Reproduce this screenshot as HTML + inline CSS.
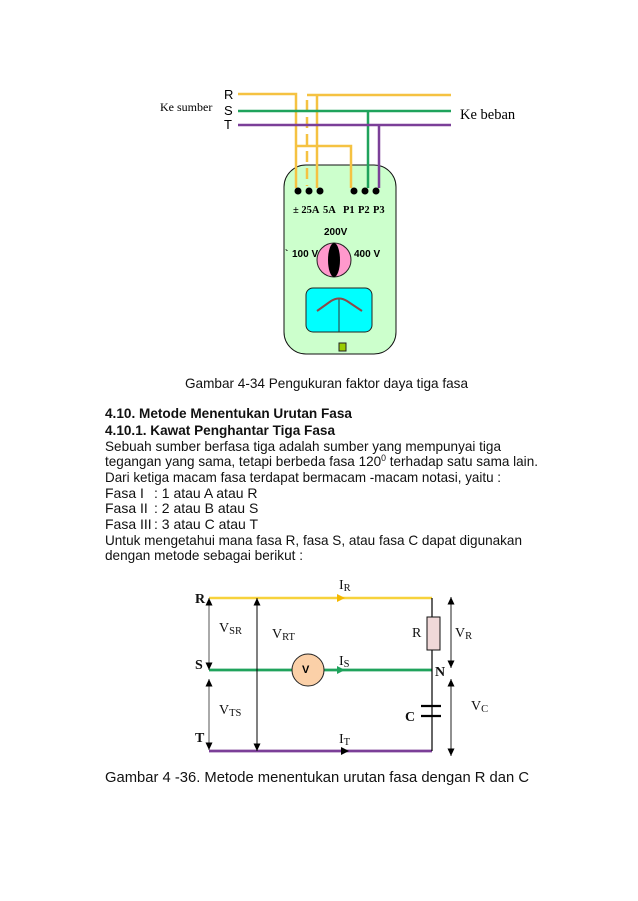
<!DOCTYPE html>
<html><head><meta charset="utf-8">
<style>
html,body{margin:0;padding:0;background:#fff}
body{width:638px;height:901px;position:relative;overflow:hidden}
svg{position:absolute;left:0;top:0}
.a{font-family:"Liberation Sans",sans-serif}
.s{font-family:"Liberation Serif",serif}
</style></head><body>
<svg width="638" height="901" viewBox="0 0 638 901" xmlns="http://www.w3.org/2000/svg">
<defs>
<marker id="ak" markerWidth="8" markerHeight="8" refX="7.5" refY="3.5" orient="auto-start-reverse" markerUnits="userSpaceOnUse"><path d="M0 0L7.5 3.5L0 7Z" fill="#000"/></marker>
</defs>
<rect width="638" height="901" fill="#fff"/>
<!-- meter -->
<rect x="284" y="165" width="112" height="189" rx="22" fill="#ccffcc" stroke="#111" stroke-width="1"/>
<g fill="none" stroke-width="2.5">
<path d="M238 94H296V188M296 146H351V188" stroke="#f5c242"/>
<path d="M307 95H451M317 95V188" stroke="#f5c242"/>
<path d="M307 100V186" stroke="#f5c242" stroke-dasharray="11 6"/>
<path d="M238 111H451M368 111V188" stroke="#1fa35c"/>
<path d="M238 125H451M379 125V188" stroke="#7b3f98"/>
</g>
<g fill="#000">
<circle cx="298" cy="191" r="3.5"/><circle cx="309" cy="191" r="3.5"/><circle cx="320" cy="191" r="3.5"/>
<circle cx="354" cy="191" r="3.5"/><circle cx="365" cy="191" r="3.5"/><circle cx="376" cy="191" r="3.5"/>
</g>
<circle cx="334" cy="260" r="17" fill="#ff99cc" stroke="#222" stroke-width="1"/>
<ellipse cx="334" cy="260" rx="6" ry="17" fill="#000"/>
<rect x="306" y="288" width="66" height="44" rx="7" fill="#00ffff" stroke="#222" stroke-width="1"/>
<path d="M339 298V332" stroke="#333" stroke-width="1"/>
<path d="M317 311L331 301Q339 296 347 301L362 311" fill="none" stroke="#8a4a4a" stroke-width="2"/>
<rect x="339" y="343" width="7" height="8" fill="#99cc00" stroke="#222" stroke-width="1"/>
<!-- labels top -->
<text x="160" y="111" class="s" font-size="12">Ke sumber</text>
<text x="224" y="99" class="a" font-size="13">R</text>
<text x="224" y="115" class="a" font-size="13">S</text>
<text x="224" y="129" class="a" font-size="13">T</text>
<text x="460" y="119" class="s" font-size="14.5">Ke beban</text>
<g class="s" font-size="10.5" font-weight="bold">
<text x="293" y="213">± 25A</text>
<text x="323" y="213">5A</text>
<text x="343" y="213">P1</text>
<text x="358" y="213">P2</text>
<text x="373" y="213">P3</text>
</g>
<text x="324" y="235" class="a" font-size="10" font-weight="bold">200V</text>
<text x="285" y="257" class="a" font-size="10" font-weight="bold">`</text>
<text x="292" y="257" class="a" font-size="10" font-weight="bold">100 V</text>
<text x="354" y="257" class="a" font-size="10" font-weight="bold">400 V</text>
<!-- text block -->
<g class="a" font-size="14" fill="#111">
<text x="185" y="388" textLength="283" lengthAdjust="spacingAndGlyphs">Gambar 4-34 Pengukuran faktor daya tiga fasa</text>
<text x="105" y="418" font-weight="bold" textLength="247" lengthAdjust="spacingAndGlyphs">4.10. Metode Menentukan Urutan Fasa</text>
<text x="105" y="435" font-weight="bold" textLength="230" lengthAdjust="spacingAndGlyphs">4.10.1. Kawat Penghantar Tiga Fasa</text>
<text x="105" y="451" textLength="396" lengthAdjust="spacingAndGlyphs">Sebuah sumber berfasa tiga adalah sumber yang mempunyai tiga</text>
<text x="105" y="466" textLength="433" lengthAdjust="spacingAndGlyphs">tegangan yang sama, tetapi berbeda fasa 120<tspan font-size="9" dy="-5">0</tspan><tspan dy="5"> terhadap satu sama lain.</tspan></text>
<text x="105" y="482" textLength="396" lengthAdjust="spacingAndGlyphs">Dari ketiga macam fasa terdapat bermacam -macam notasi, yaitu :</text>
<text x="105" y="498">Fasa I<tspan x="154">: 1 atau A atau R</tspan></text>
<text x="105" y="513">Fasa II<tspan x="154">: 2 atau B atau S</tspan></text>
<text x="105" y="529">Fasa III<tspan x="154">: 3 atau C atau T</tspan></text>
<text x="105" y="545" textLength="417" lengthAdjust="spacingAndGlyphs">Untuk mengetahui mana fasa R, fasa S, atau fasa C dapat digunakan</text>
<text x="105" y="560" textLength="198" lengthAdjust="spacingAndGlyphs">dengan metode sebagai berikut :</text>
<text x="105" y="782" font-size="14.5" textLength="424" lengthAdjust="spacingAndGlyphs">Gambar 4 -36.  Metode menentukan urutan fasa dengan R dan C</text>
</g>
<!-- circuit -->
<path d="M209 598H432" stroke="#f7d23c" stroke-width="2.4" fill="none"/>
<path d="M209 670H432" stroke="#1fa35c" stroke-width="2.8" fill="none"/>
<path d="M209 751H432" stroke="#7b3f98" stroke-width="2.8" fill="none"/>
<path d="M432 598V751" stroke="#000" stroke-width="1.2"/>
<path d="M337 594L345 598L337 602Z" fill="#f5b800"/>
<path d="M337 666L345 670L337 674Z" fill="#1fa35c"/>
<path d="M341 747L349 751L341 755Z" fill="#000"/>
<rect x="427" y="617" width="13" height="33" fill="#f0d8d8" stroke="#111" stroke-width="1"/>
<path d="M421 706H441M421 716H441" stroke="#000" stroke-width="2.2"/>
<g stroke-width="1" fill="none">
<path d="M209 598V670" stroke="#555" marker-start="url(#ak)" marker-end="url(#ak)"/>
<path d="M209 679V750" stroke="#555" marker-start="url(#ak)" marker-end="url(#ak)"/>
<path d="M257 598V751" stroke="#000" marker-start="url(#ak)" marker-end="url(#ak)"/>
<path d="M451 597V668" stroke="#222" marker-start="url(#ak)" marker-end="url(#ak)"/>
<path d="M451 679V756" stroke="#222" marker-start="url(#ak)" marker-end="url(#ak)"/>
</g>
<circle cx="308" cy="670" r="16" fill="#fbd0a8" stroke="#222" stroke-width="1"/>
<text x="302" y="673" class="a" font-size="11" font-weight="bold">V</text>
<g class="s" fill="#111" font-size="14">
<text x="195" y="603" font-weight="bold">R</text>
<text x="195" y="669" font-weight="bold">S</text>
<text x="195" y="742" font-weight="bold">T</text>
<text x="435" y="676" font-weight="bold">N</text>
<text x="405" y="721" font-weight="bold">C</text>
<text x="412" y="637">R</text>
<text x="219" y="632">V<tspan font-size="10.5" dy="2">SR</tspan></text>
<text x="272" y="638">V<tspan font-size="10.5" dy="2">RT</tspan></text>
<text x="219" y="714">V<tspan font-size="10.5" dy="2">TS</tspan></text>
<text x="455" y="637">V<tspan font-size="10.5" dy="2">R</tspan></text>
<text x="471" y="710">V<tspan font-size="10.5" dy="2">C</tspan></text>
<text x="339" y="589">I<tspan font-size="10.5" dy="2">R</tspan></text>
<text x="339" y="665">I<tspan font-size="10.5" dy="2">S</tspan></text>
<text x="339" y="743">I<tspan font-size="10.5" dy="2">T</tspan></text>
</g>
</svg>
</body></html>
